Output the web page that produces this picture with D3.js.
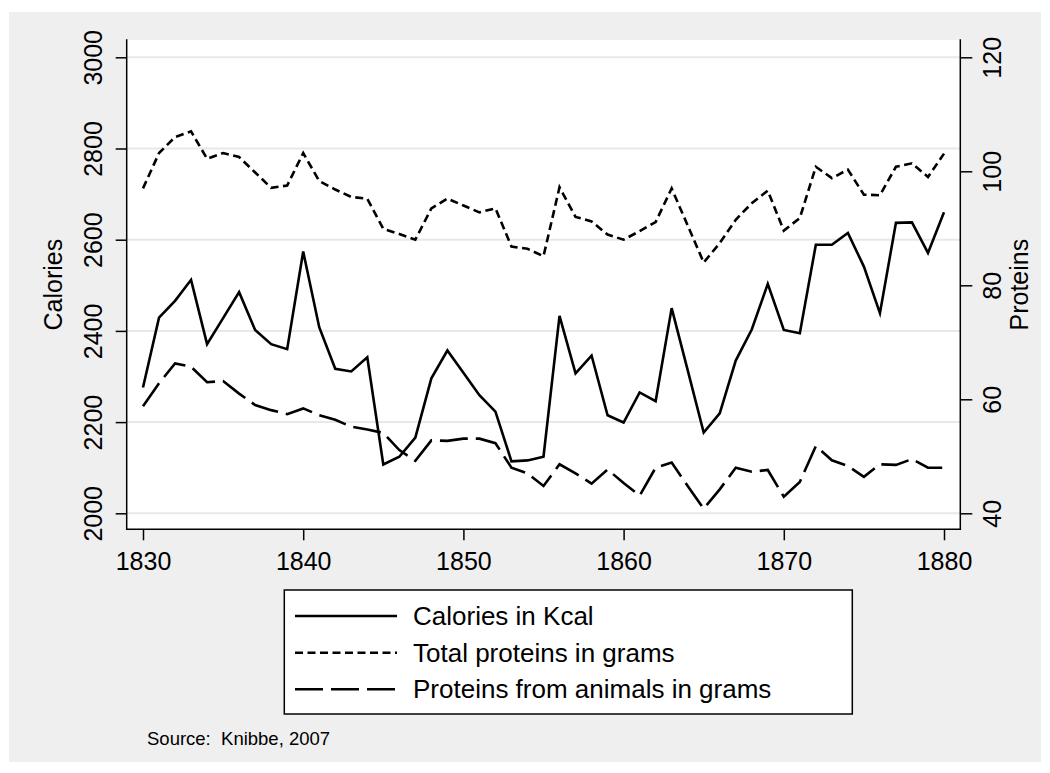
<!DOCTYPE html>
<html>
<head>
<meta charset="utf-8">
<script src="https://cdn.jsdelivr.net/npm/d3@7/dist/d3.min.js"></script>
<style>
  html, body { margin: 0; padding: 0; background: #ffffff; }
  svg { display: block; }
  text { font-family: "Liberation Sans", Arial, Helvetica, sans-serif; fill: #000; }
</style>
</head>
<body>
<svg id="chart" width="1050" height="773"></svg>
<script>
// Food supply in the Netherlands, 1830-1880
const years = [1830,1831,1832,1833,1834,1835,1836,1837,1838,1839,
               1840,1841,1842,1843,1844,1845,1846,1847,1848,1849,
               1850,1851,1852,1853,1854,1855,1856,1857,1858,1859,
               1860,1861,1862,1863,1864,1865,1866,1867,1868,1869,
               1870,1871,1872,1873,1874,1875,1876,1877,1878,1879,1880];

// Calories per head per day (Kcal) - left axis
const calories = [2276,2429,2466,2512,2371,2428,2485,2402,2371,2360,
                  2574,2408,2317,2311,2342,2107,2124,2166,2296,2357,
                  2308,2259,2223,2114,2116,2124,2433,2307,2346,2215,
                  2199,2265,2246,2450,2314,2177,2219,2335,2403,2503,
                  2402,2395,2589,2589,2615,2541,2439,2637,2638,2571,2660];

// Total proteins (grams) - right axis
const totalProteins = [97.0,103.2,106.0,107.0,102.2,103.2,102.5,99.8,97.1,97.5,
                       103.2,98.3,96.8,95.5,95.2,89.9,89.0,88.0,93.5,95.2,
                       94.0,92.8,93.5,86.8,86.4,85.1,97.2,92.0,91.2,88.9,
                       88.0,89.5,91.1,97.0,90.5,84.0,87.4,91.5,94.4,96.6,
                       89.6,91.8,100.8,98.8,100.3,95.9,95.8,100.8,101.4,99.0,103.1];

// Proteins from animal products (grams) - right axis
const animalProteins = [58.8,62.8,66.3,65.7,63.0,63.2,61.0,59.0,58.1,57.4,
                        58.4,57.2,56.4,55.2,54.7,54.1,51.1,49.2,52.8,52.7,
                        53.1,53.1,52.3,48.0,47.0,44.8,48.6,47.0,45.2,47.7,
                        45.3,43.1,48.0,48.9,44.8,40.8,44.2,48.0,47.3,47.6,
                        42.9,45.5,51.8,49.3,48.3,46.4,48.6,48.5,49.5,48.0,48.0];

const xTicks = [1830,1840,1850,1860,1870,1880];
const calTicks = [2000,2200,2400,2600,2800,3000];
const protTicks = [40,60,80,100,120];

const legendLabels = ["Calories in Kcal", "Total proteins in grams", "Proteins from animals in grams"];
const sourceNote = "Source:  Knibbe, 2007";

// ---- layout ----
const W = 1050, H = 773;
const plot = { left: 126.7, right: 960.3, top: 40, bottom: 529.3 };
const svg = d3.select("#chart");

const x = d3.scaleLinear().domain([1830, 1880]).range([143, 944]);
const yCal = d3.scaleLinear().domain([2000, 3000]).range([513.3, 57.3]);
const yProt = d3.scaleLinear().domain([40, 120]).range([513.3, 57.3]);

// graph region
svg.append("rect").attr("x", 9).attr("y", 12).attr("width", 1032).attr("height", 750)
  .attr("fill", "#efefef");
// plot region
svg.append("rect").attr("x", plot.left).attr("y", plot.top)
  .attr("width", plot.right - plot.left).attr("height", plot.bottom - plot.top)
  .attr("fill", "#ffffff");

// horizontal grid lines at calorie ticks
svg.append("g").selectAll("line").data(calTicks).join("line")
  .attr("x1", plot.left).attr("x2", plot.right)
  .attr("y1", d => yCal(d)).attr("y2", d => yCal(d))
  .attr("stroke", "#e8e8e8").attr("stroke-width", 2);

const tickFont = 25;

// left axis
const gL = svg.append("g").attr("transform", `translate(${plot.left},0)`)
  .call(d3.axisLeft(yCal).tickValues(calTicks).tickSize(11).tickFormat(d3.format("d")));
gL.select(".domain").remove();
gL.selectAll(".tick line").attr("stroke", "#000").attr("stroke-width", 1.5);
gL.selectAll(".tick text")
  .attr("x", null).attr("dy", null)
  .attr("transform", "translate(-25,0) rotate(-90)")
  .attr("text-anchor", "middle")
  .style("font-size", tickFont + "px")
  .style("font-family", '"Liberation Sans", Arial, sans-serif');

// right axis
const gR = svg.append("g").attr("transform", `translate(${plot.right},0)`)
  .call(d3.axisRight(yProt).tickValues(protTicks).tickSize(12).tickFormat(d3.format("d")));
gR.select(".domain").remove();
gR.selectAll(".tick line").attr("stroke", "#000").attr("stroke-width", 1.5);
gR.selectAll(".tick text")
  .attr("x", null).attr("dy", null)
  .attr("transform", "translate(41,0) rotate(-90)")
  .attr("text-anchor", "middle")
  .style("font-size", tickFont + "px")
  .style("font-family", '"Liberation Sans", Arial, sans-serif');

// bottom axis
const gB = svg.append("g").attr("transform", `translate(0,${plot.bottom})`)
  .call(d3.axisBottom(x).tickValues(xTicks).tickSize(11).tickFormat(d3.format("d")));
gB.select(".domain").remove();
gB.selectAll(".tick line").attr("stroke", "#000").attr("stroke-width", 1.5);
gB.selectAll(".tick text")
  .attr("y", 41).attr("dy", null)
  .attr("text-anchor", "middle")
  .style("font-size", tickFont + "px")
  .style("font-family", '"Liberation Sans", Arial, sans-serif');

// axis lines
const axisLines = [
  [plot.left, plot.top, plot.left, plot.bottom],
  [plot.right, plot.top, plot.right, plot.bottom],
  [plot.left, plot.bottom, plot.right, plot.bottom]
];
svg.append("g").selectAll("line").data(axisLines).join("line")
  .attr("x1", d => d[0]).attr("y1", d => d[1]).attr("x2", d => d[2]).attr("y2", d => d[3])
  .attr("stroke", "#000").attr("stroke-width", 1.5).attr("stroke-linecap", "square");

// axis titles
const midY = (plot.top + plot.bottom) / 2;
svg.append("text").text("Calories")
  .attr("transform", `translate(62,${midY}) rotate(-90)`)
  .attr("text-anchor", "middle").style("font-size", "25px");
svg.append("text").text("Proteins")
  .attr("transform", `translate(1028,${midY}) rotate(-90)`)
  .attr("text-anchor", "middle").style("font-size", "25px");

// series
const series = [
  { values: calories, y: yCal, dash: null },
  { values: totalProteins, y: yProt, dash: "8,4.5" },
  { values: animalProteins, y: yProt, dash: "28,8" }
];

series.forEach(s => {
  const line = d3.line().x((d, i) => x(years[i])).y(d => s.y(d));
  svg.append("path").datum(s.values)
    .attr("d", line)
    .attr("fill", "none")
    .attr("stroke", "#000")
    .attr("stroke-width", 2.6)
    .attr("stroke-linejoin", "miter")
    .attr("stroke-dasharray", s.dash);
});

// legend
const lg = { x: 284.3, y: 590, w: 568, h: 124 };
svg.append("rect").attr("x", lg.x).attr("y", lg.y).attr("width", lg.w).attr("height", lg.h)
  .attr("fill", "#fff").attr("stroke", "#000").attr("stroke-width", 1.5);
const rowY = [616, 652.7, 689.3];
series.forEach((s, i) => {
  svg.append("line")
    .attr("x1", 295).attr("x2", 397).attr("y1", rowY[i]).attr("y2", rowY[i])
    .attr("stroke", "#000").attr("stroke-width", 2.6)
    .attr("stroke-dasharray", s.dash);
  svg.append("text").text(legendLabels[i])
    .attr("x", 413).attr("y", rowY[i] + 9)
    .style("font-size", "26px");
});

// source note
svg.append("text").text(sourceNote)
  .attr("x", 147).attr("y", 745)
  .style("font-size", "18.5px")
  .style("white-space", "pre")
  .attr("xml:space", "preserve");
</script>
</body>
</html>
